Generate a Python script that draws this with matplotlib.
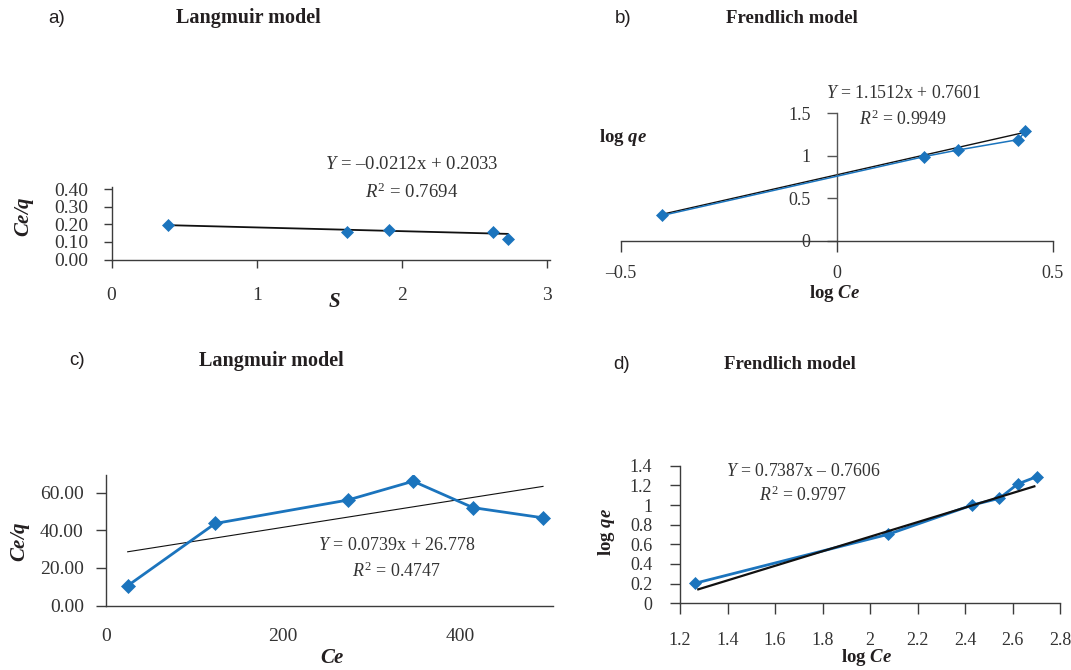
import matplotlib
matplotlib.use('Agg')
import matplotlib.pyplot as plt
import numpy as np

plt.rcParams['font.family'] = ['Liberation Serif', 'DejaVu Serif']
plt.rcParams['mathtext.fontset'] = 'custom'
plt.rcParams['mathtext.rm'] = 'Liberation Serif'
plt.rcParams['mathtext.it'] = 'Liberation Serif:italic'
plt.rcParams['mathtext.bf'] = 'Liberation Serif:bold'
plt.rcParams['mathtext.sf'] = 'Liberation Serif:bold:italic'

# ---------------- data ----------------
# a) Langmuir model
a_x = [0.39, 1.62, 1.91, 2.63, 2.73]
a_y = [0.194, 0.157, 0.168, 0.157, 0.117]
a_slope, a_icpt = -0.0212, 0.2033
a_xticks = [0, 1, 2, 3]
a_yticks = [0.0, 0.1, 0.2, 0.3, 0.4]

# b) Frendlich model
b_x = [-0.405, 0.2025, 0.279, 0.42, 0.436]
b_y = [0.295, 0.99, 1.066, 1.19, 1.29]
b_slope, b_icpt = 1.1512, 0.7601
b_xticks = [-0.5, 0, 0.5]
b_xlabels = ['\u20130.5', '0', '0.5']
b_yticks = [0, 0.5, 1, 1.5]
b_ylabels = ['0', '0.5', '1', '1.5']

# c) Langmuir model
c_x = [24.5, 123.4, 273, 347, 414.6, 493.7]
c_y = [10.6, 43.6, 56.0, 66.0, 52.0, 46.6]
c_slope, c_icpt = 0.0739, 26.778
c_xticks = [0, 200, 400]
c_yticks = [0, 20, 40, 60]

# d) Frendlich model
d_x = [1.262, 2.077, 2.431, 2.545, 2.622, 2.702]
d_y = [0.203, 0.702, 1.000, 1.068, 1.214, 1.288]
d_trend_x = [1.277, 2.692]
d_trend_y = [0.142, 1.19]
d_xticks = [1.2, 1.4, 1.6, 1.8, 2.0, 2.2, 2.4, 2.6, 2.8]
d_xlabels = ['1.2', '1.4', '1.6', '1.8', '2', '2.2', '2.4', '2.6', '2.8']
d_yticks = [0, 0.2, 0.4, 0.6, 0.8, 1.0, 1.2, 1.4]
d_ylabels = ['0', '0.2', '0.4', '0.6', '0.8', '1', '1.2', '1.4']

DASH = '\u2013'
BLUE = '#1b74bd'
TXT = '#333333'
SPINE = '#3c3c3c'
TITLE = '#231f20'

W, H = 1071, 670
fig = plt.figure(figsize=(W / 100, H / 100), dpi=100)


def axbox(l, r, b, t):
    return fig.add_axes([l / W, 1 - b / H, (r - l) / W, (b - t) / H])


def fx(px):
    return px / W


def fy(py):
    return 1 - py / H


def style(ax):
    for s in ['top', 'right']:
        ax.spines[s].set_visible(False)
    for s in ['left', 'bottom']:
        ax.spines[s].set_color(SPINE)
        ax.spines[s].set_linewidth(1.0)
    ax.set_facecolor('none')


def setlabel(axis, text, px, py, size, rotation=None):
    if axis.axis_name == 'x':
        axis.axes.set_xlabel(text, fontsize=size, fontweight='bold', color=TITLE)
    else:
        axis.axes.set_ylabel(text, fontsize=size, fontweight='bold', color=TITLE,
                             rotation=90 if rotation is None else rotation)
    axis.set_label_coords(fx(px), fy(py), transform=fig.transFigure)
    axis.label.set_va('center')
    axis.label.set_ha('center')


def header(letter, lx, title, tx, y, tsize):
    fig.text(fx(lx), fy(y), letter, ha='left', va='center', fontsize=13.5,
             family='Liberation Sans', color=TITLE)
    fig.text(fx(tx), fy(y), title, ha='center', va='center', fontsize=tsize,
             fontweight='bold', color=TITLE)


# ---------------- a ----------------
ax = axbox(111.5, 550, 259.5, 187.3)
style(ax)
ax.set_xlim(0, 3.02)
ax.set_ylim(0, 0.41)
ax.set_xticks(a_xticks)
ax.set_xticklabels([str(v) for v in a_xticks])
ax.set_yticks(a_yticks)
ax.set_yticklabels(['%.2f' % v for v in a_yticks])
ax.tick_params(axis='x', direction='out', length=6, width=1, pad=14, labelsize=14,
               labelcolor=TXT, color=SPINE)
ax.tick_params(axis='y', direction='out', length=6, width=1, pad=11, labelsize=14,
               labelcolor=TXT, color=SPINE)
ax.plot(a_x, a_y, linestyle='none', marker='D', ms=6.2, color=BLUE, mew=0.5, zorder=3)
ta = np.array([min(a_x), max(a_x)])
ax.plot(ta, a_slope * ta + a_icpt, color='#111111', lw=1.3, zorder=2)
setlabel(ax.xaxis, r'$\mathsf{S}$', 334, 301.7, 15)
setlabel(ax.yaxis, r'$\mathsf{Ce/q}$', 25, 217, 15)
fig.text(fx(412), fy(165), r'$\mathit{Y}$ = ' + DASH + '0.0212x + 0.2033', ha='center',
         va='center', fontsize=13.5, color=TXT)
fig.text(fx(412), fy(192), r'$\mathit{R}^2$ = 0.7694', ha='center', va='center',
         fontsize=13.5, color=TXT)
header('a)', 48.5, 'Langmuir model', 248, 18.3, 14.5)

# ---------------- b ----------------
ax = axbox(621, 1053, 240.5, 113.3)
style(ax)
ax.set_xlim(-0.5, 0.5)
ax.set_ylim(0, 1.5)
ax.spines['left'].set_position(('data', 0))
ax.spines['left'].set_color('#555555')
ax.set_xticks(b_xticks)
ax.set_xticklabels(b_xlabels)
ax.set_yticks(b_yticks)
ax.set_yticklabels(b_ylabels)
ax.tick_params(axis='x', direction='out', length=8, width=1, pad=9.5, labelsize=13,
               labelcolor=TXT, color=SPINE)
ax.tick_params(axis='y', direction='out', length=7, width=1, pad=12, labelsize=13,
               labelcolor=TXT, color='#555555')
ax.plot(b_x, b_y, color=BLUE, lw=1.1, marker='D', ms=6.0, mew=0.5, zorder=3)
tb = np.array([min(b_x), max(b_x)])
ax.plot(tb, b_slope * tb + b_icpt + 0.015, color='#111111', lw=1.0, zorder=2)
setlabel(ax.xaxis, r'log $\mathsf{Ce}$', 834.7, 293, 13.5)
setlabel(ax.yaxis, r'log $\mathsf{qe}$', 622.7, 137.3, 13.5, rotation=0)
fig.text(fx(904), fy(94), r'$\mathit{Y}$ = 1.1512x + 0.7601', ha='center', va='center',
         fontsize=12.8, color=TXT)
fig.text(fx(903), fy(119), r'$\mathit{R}^2$ = 0.9949', ha='center', va='center',
         fontsize=12.8, color=TXT)
header('b)', 615, 'Frendlich model', 792, 18.3, 13.5)

# ---------------- c ----------------
ax = axbox(106, 553, 605.7, 475)
style(ax)
ax.set_xlim(0, 505)
ax.set_ylim(0, 69.3)
ax.set_xticks(c_xticks)
ax.set_xticklabels([str(v) for v in c_xticks])
ax.set_xticks([0], minor=True)
ax.set_yticks(c_yticks)
ax.set_yticklabels(['%.2f' % v for v in c_yticks])
ax.tick_params(axis='x', which='major', direction='out', length=0, pad=16, labelsize=14,
               labelcolor=TXT, color=SPINE)
ax.tick_params(axis='x', which='minor', direction='out', length=8, width=1, color=SPINE)
ax.tick_params(axis='y', direction='out', length=7, width=1, pad=9, labelsize=14,
               labelcolor=TXT, color=SPINE)
ax.plot(c_x, c_y, color=BLUE, lw=2.0, marker='D', ms=6.8, mew=0.5, zorder=3)
tc = np.array([min(c_x), max(c_x)])
ax.plot(tc, c_slope * tc + c_icpt, color='#111111', lw=0.8, zorder=2)
setlabel(ax.xaxis, r'$\mathsf{Ce}$', 332, 658, 15)
setlabel(ax.yaxis, r'$\mathsf{Ce/q}$', 20, 541.5, 15)
fig.text(fx(397), fy(545), r'$\mathit{Y}$ = 0.0739x + 26.778', ha='center', va='center',
         fontsize=13, color=TXT)
fig.text(fx(397), fy(571), r'$\mathit{R}^2$ = 0.4747', ha='center', va='center',
         fontsize=13, color=TXT)
header('c)', 69.3, 'Langmuir model', 271.5, 360.7, 14.5)

# ---------------- d ----------------
ax = axbox(680, 1060, 603.3, 465.7)
style(ax)
ax.set_xlim(1.2, 2.8)
ax.set_ylim(0, 1.4)
ax.set_xticks(d_xticks)
ax.set_xticklabels(d_xlabels)
ax.set_yticks(d_yticks)
ax.set_yticklabels(d_ylabels)
ax.tick_params(axis='x', direction='out', length=8, width=1, pad=13, labelsize=13,
               labelcolor=TXT, color=SPINE)
ax.tick_params(axis='y', direction='out', length=7, width=1, pad=13, labelsize=13,
               labelcolor=TXT, color=SPINE)
ax.plot(d_x, d_y, color=BLUE, lw=2.0, marker='D', ms=6.2, mew=0.5, zorder=3)
ax.plot(d_trend_x, d_trend_y, color='#111111', lw=1.6, zorder=4)
setlabel(ax.xaxis, r'log $\mathsf{Ce}$', 867, 658, 13.5)
setlabel(ax.yaxis, r'log $\mathsf{qe}$', 606.7, 531.7, 13.5)
fig.text(fx(803), fy(471.7), r'$\mathit{Y}$ = 0.7387x ' + DASH + ' 0.7606', ha='center',
         va='center', fontsize=12.8, color=TXT)
fig.text(fx(803), fy(495), r'$\mathit{R}^2$ = 0.9797', ha='center', va='center',
         fontsize=12.8, color=TXT)
header('d)', 613, 'Frendlich model', 790, 364.3, 13.5)

fig.savefig('out.png', dpi=100, facecolor='white')
